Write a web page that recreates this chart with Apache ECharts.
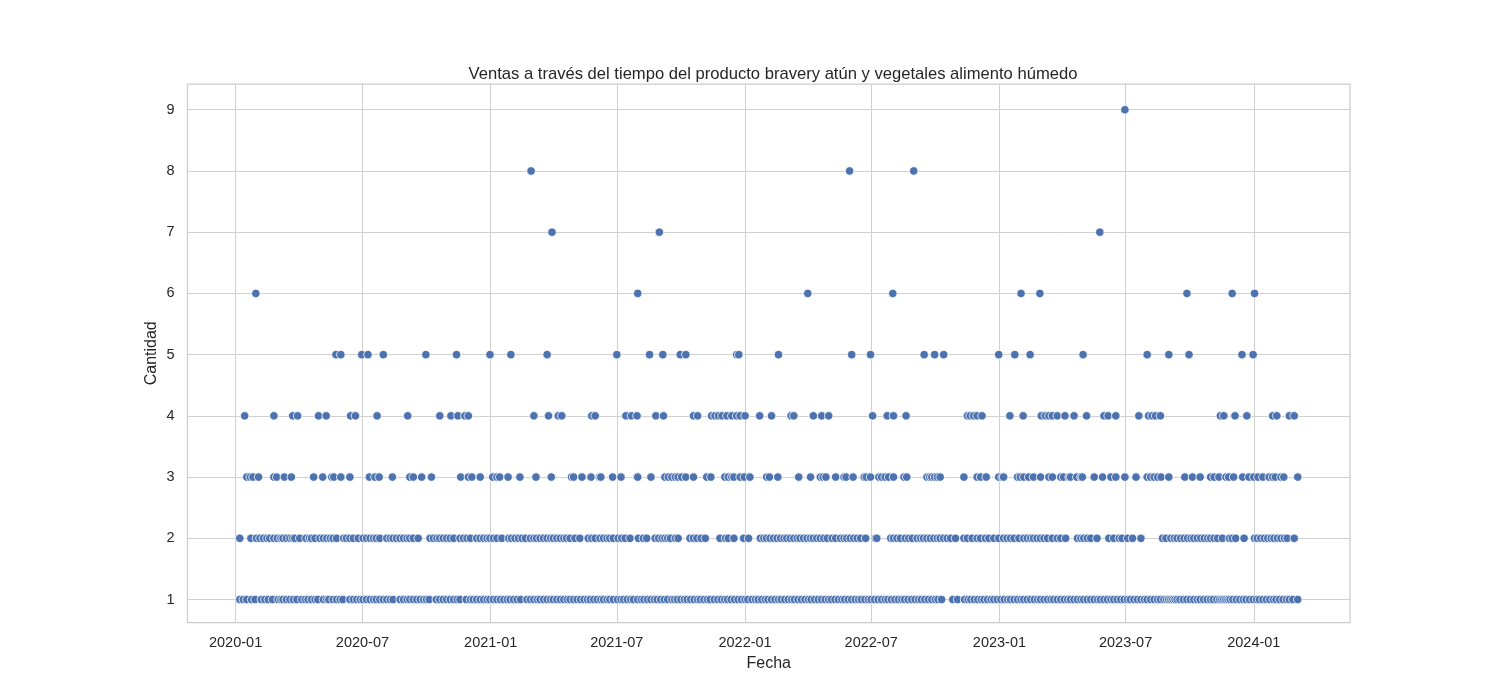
<!DOCTYPE html>
<html>
<head>
<meta charset="utf-8">
<script src="https://cdn.jsdelivr.net/npm/echarts@6/dist/echarts.min.js"></script>
<style>
  html, body { margin: 0; padding: 0; background: #fff; }
  #chart { width: 1500px; height: 700px; }
</style>
</head>
<body>
<div id="chart"></div>
<script>
// fechas como dias desde 2020-01-01, una lista por cantidad vendida
const start = [2020, 0, 1];

const qty1Days = [6, 11, 16, 23, 28, 37, 42, 47, 53, 61, 65, 68, 73, 78, 83, 88, 95, 100, 104, 109, 114, 118, 126, 131, 134, 140, 145, 150, 154, 164, 169, 174, 179, 183, 188, 193, 198, 202, 207, 212, 217, 222, 226, 236, 241, 246, 250, 255, 260, 265, 270, 274, 278, 288, 293, 298, 303, 308, 313, 318, 322, 331, 337, 341, 346, 351, 356, 361, 365, 370, 375, 380, 385, 390, 394, 399, 404, 409, 418, 423, 428, 433, 437, 442, 447, 452, 456, 461, 466, 471, 476, 480, 485, 490, 495, 500,
  505, 509, 514, 519, 524, 528, 533, 537, 542, 548, 553, 557, 562, 567, 571, 577, 582, 586, 591, 596, 601, 605, 610, 615, 620, 626, 630, 634, 639, 644, 648, 653, 658, 663, 667, 672, 677, 681, 687, 692, 697, 702, 706, 711, 716, 721, 726, 731, 735, 741, 746, 750, 755, 760, 764, 769, 774, 779, 783, 788, 793, 798, 802, 807, 812, 817, 822, 826, 831, 836, 841, 846, 851, 855, 860, 865, 870, 874, 879, 884, 889, 894, 898, 903, 908, 912, 917, 922, 927, 932, 936, 941, 946, 951, 956, 960, 965, 970, 975, 980, 984, 989, 994, 999, 1004, 1008, 1013, 1029, 1036, 1046, 1051, 1055, 1060, 1065,
  1070, 1074, 1079, 1084, 1088, 1093, 1098, 1103, 1108, 1112, 1117, 1122, 1127, 1131, 1136, 1141, 1146, 1151, 1155, 1160, 1165, 1170, 1174, 1179, 1184, 1189, 1194, 1198, 1203, 1208, 1213, 1217, 1222, 1227, 1232, 1237, 1241, 1246, 1251, 1256, 1260, 1265, 1270, 1275, 1280, 1284, 1289, 1294, 1299, 1304, 1308, 1313, 1318, 1323, 1327, 1332, 1336, 1339, 1342, 1345, 1348, 1351, 1355, 1360, 1365, 1370, 1375, 1380, 1384, 1389, 1394, 1399, 1403, 1408, 1412, 1415, 1418, 1421, 1424, 1427, 1431, 1436, 1441, 1446, 1450, 1455, 1460, 1465, 1469, 1474, 1479, 1484, 1489, 1493, 1498, 1503, 1508, 1512, 1517, 1524];

const qty2Days = [6, 22, 30, 35, 40, 45, 49, 55, 60, 65, 68, 73, 78, 82, 85, 92, 101, 106, 109, 114, 121, 126, 131, 136, 140, 145, 155, 159, 164, 169, 176, 183, 188, 193, 198, 202, 207, 217, 222, 226, 231, 236, 241, 246, 250, 255, 262, 279, 284, 289, 293, 298, 303, 308, 313, 322, 327, 332, 337, 346, 351, 356, 361, 365, 370, 375, 382, 392, 396, 401, 406, 411, 416, 423, 428, 432, 437, 442, 447, 452, 456, 461, 466, 471, 475, 480, 487,
  494, 506, 511, 516, 523, 528, 533, 537, 542, 549, 554, 559, 566, 578, 585, 590, 602, 607, 612, 616, 620, 624, 631, 635, 652, 657, 662, 668, 674, 695, 703, 707, 715, 729, 736, 753, 758, 762, 767, 772, 777, 782, 787, 791, 796, 801, 806, 810, 815, 820, 825, 829, 834, 839, 844, 849, 856, 861, 868, 873, 877, 882, 887, 892, 897, 904, 918, 920, 940, 944, 949, 954, 961, 966, 971, 978, 983, 987, 992, 997, 1002, 1007, 1011, 1016, 1021, 1026, 1033, 1045, 1050, 1057, 1064,
  1069, 1076, 1081, 1088, 1095, 1102, 1107, 1112, 1117, 1124, 1131, 1136, 1141, 1145, 1150, 1155, 1160, 1165, 1172, 1179, 1184, 1191, 1208, 1213, 1217, 1222, 1227, 1236, 1253, 1260, 1268, 1272, 1280, 1287, 1299, 1330, 1335, 1342, 1347, 1351, 1356, 1361, 1366, 1371, 1375, 1380, 1385, 1390, 1395, 1399, 1404, 1409, 1416, 1426, 1430, 1435, 1447, 1462, 1466, 1471, 1476, 1481, 1486, 1490, 1495, 1500, 1505, 1509, 1519];

const qty3Days = [16, 21, 25, 33, 55, 59, 70, 80, 112, 125, 138, 141, 151, 164, 192, 200, 206, 225, 250, 255, 267, 281, 323, 334, 339, 351, 369, 375, 379, 391, 408, 431, 453, 482, 485, 497,
  510, 522, 524, 541, 553, 576, 577, 596, 616, 621, 626, 631, 635, 640, 646, 657, 676, 682, 702, 707, 712, 715, 724, 730, 738, 762, 766, 778, 808, 825, 839, 843, 847, 861, 873, 876, 886, 902, 905, 911, 923, 927, 932, 937, 944, 959, 963, 992, 996, 999, 1003, 1007, 1011, 1045, 1064,
  1069, 1077, 1095, 1100, 1102, 1122, 1126, 1131, 1138, 1145, 1155, 1167, 1172, 1184, 1188, 1196, 1198, 1207, 1213, 1215, 1232, 1244, 1256, 1263, 1276, 1292, 1308, 1313, 1318, 1323, 1328, 1339, 1362, 1373, 1384, 1399, 1404, 1411, 1421, 1425, 1432, 1445, 1454, 1461, 1467, 1474, 1483, 1488, 1492, 1500, 1504, 1524];

const qty4Days = [13, 55, 82, 89, 119, 130, 165, 172, 203, 247, 293, 309, 319, 329, 334, 428, 449, 463, 468,
  511, 516, 560, 568, 576, 603, 614, 657, 663, 683, 688, 693, 698, 705, 712, 719, 724, 731, 752, 769, 797, 801, 829, 841, 851, 914, 935, 944, 962, 1050, 1054, 1059, 1064,
  1071, 1111, 1130, 1156, 1162, 1167, 1172, 1179, 1190, 1203, 1221, 1246, 1252, 1263, 1296, 1310, 1315, 1320, 1327, 1413, 1418, 1434, 1451, 1488, 1494, 1512, 1519];

const qty5Days = [144, 151, 181, 190, 212, 273, 317, 365, 395, 447, 547, 594, 613, 638, 646, 719, 722, 779, 884, 911, 988, 1003, 1016, 1095, 1118, 1140, 1216, 1308, 1339, 1368, 1444, 1460];
const qty6Days = [29, 577, 821, 943, 1127, 1154, 1365, 1430, 1462];
const qty7Days = [454, 608, 1240];
const qty8Days = [424, 881, 973];
const qty9Days = [1276];

const xTickLabels = ['2020-01', '2020-07', '2021-01', '2021-07', '2022-01', '2022-07', '2023-01', '2023-07', '2024-01'];
const yTicks = [1, 2, 3, 4, 5, 6, 7, 8, 9];

function dayToTime(d) {
    return new Date(start[0], start[1], start[2] + d).getTime();
}

function monthToTime(label) {
    const [y, m] = label.split('-').map(Number);
    return new Date(y, m - 1, 1).getTime();
}

const byQty = [qty1Days, qty2Days, qty3Days, qty4Days, qty5Days, qty6Days, qty7Days, qty8Days, qty9Days];
const points = [];
byQty.forEach((days, i) => {
    days.forEach(d => points.push([dayToTime(d), i + 1]));
});

const xTicks = xTickLabels.map(monthToTime);
const textColor = '#262626';
const font = 'Liberation Sans, Arial, sans-serif';

const chart = echarts.init(document.getElementById('chart'), null, { renderer: 'canvas' });
chart.setOption({
    animation: false,
    backgroundColor: '#ffffff',
    title: {
        text: 'Ventas a través del tiempo del producto bravery atún y vegetales alimento húmedo',
        left: 768, top: 61, textAlign: 'center',
        textStyle: { fontFamily: font, fontSize: 16.6, fontWeight: 'normal', color: textColor }
    },
    grid: {
        left: 187.5, right: 150, top: 84, bottom: 77.5,
        show: true, borderColor: '#cccccc', borderWidth: 1.25, backgroundColor: 'transparent'
    },
    xAxis: {
        type: 'value',
        min: new Date(2019, 9, 24).getTime(),
        max: new Date(2024, 4, 18).getTime(),
        name: 'Fecha', nameLocation: 'middle', nameGap: 32,
        nameTextStyle: { fontFamily: font, fontSize: 16, color: textColor },
        axisLine: { show: false },
        axisTick: { show: false, customValues: xTicks },
        axisLabel: {
            customValues: xTicks, margin: 13,
            fontFamily: font, fontSize: 14.5, color: textColor,
            formatter: (v) => echarts.time.format(v, '{yyyy}-{MM}', false)
        },
        splitLine: { show: true, lineStyle: { color: '#d0d0d0', width: 1 } }
    },
    yAxis: {
        type: 'value',
        min: 0.625, max: 9.42,
        name: 'Cantidad', nameLocation: 'middle', nameGap: 28, nameRotate: 90,
        nameMoveOverlap: false,
        nameTextStyle: { fontFamily: font, fontSize: 16, color: textColor },
        axisLine: { show: false },
        axisTick: { show: false, customValues: yTicks },
        axisLabel: {
            customValues: yTicks, margin: 13,
            fontFamily: font, fontSize: 14.5, color: textColor
        },
        splitLine: { show: true, lineStyle: { color: '#d0d0d0', width: 1 } }
    },
    series: [{
        type: 'scatter',
        data: points,
        symbolSize: 8.5,
        itemStyle: { color: '#4c72b0', borderColor: '#ffffff', borderWidth: 0.8, opacity: 1 },
        emphasis: { disabled: true }
    }]
});
</script>
</body>
</html>
